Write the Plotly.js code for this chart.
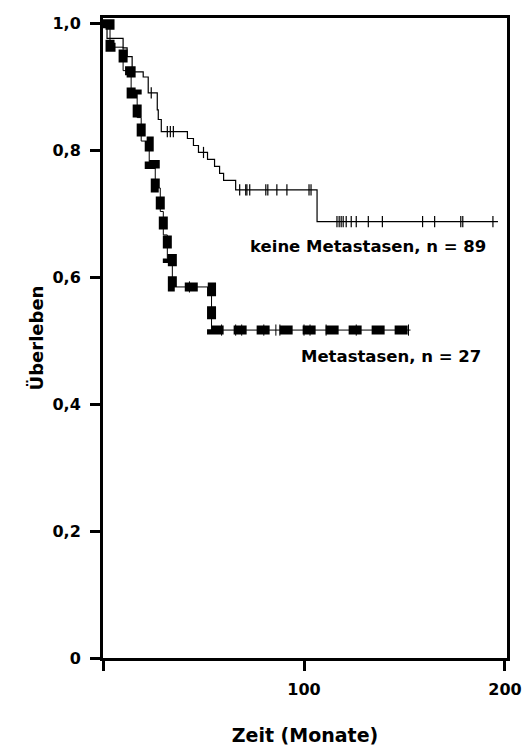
<!DOCTYPE html>
<html>
<head>
<meta charset="utf-8">
<script src="https://cdn.plot.ly/plotly-3.0.1.min.js"></script>
<style>html,body{margin:0;padding:0;background:#fff;}#chart{width:524px;height:747px;}</style>
</head>
<body>
<div id="chart"></div>
<script>
// Keine Metastasen (n = 89): Kaplan-Meier steps
const noMetTime = [0, 2, 10, 12, 14.5, 20, 22.5, 27, 27.5, 29, 42, 45, 47.5, 52, 55.5, 58, 60, 66, 106.5, 196.5];
const noMetSurv = [1.0, 0.977, 0.962, 0.948, 0.924, 0.916, 0.891, 0.864, 0.849, 0.830, 0.819, 0.808, 0.797, 0.786, 0.775, 0.764, 0.753, 0.738, 0.688, 0.688];
const noMetCensor = [24, 32, 33.5, 35, 50, 68, 71, 71.6, 73, 81, 82, 86.5, 91.5, 102.5, 103.5, 116.4, 117.5, 118.5, 119.5, 121, 123.5, 126, 132, 139, 159, 165, 178, 179, 194];

// Metastasen (n = 27): Kaplan-Meier steps
const metTime = [0, 3.5, 10, 14, 17, 19, 23, 26, 28.5, 30, 32, 34.5, 54, 153];
const metSurv = [1.0, 0.963, 0.926, 0.889, 0.852, 0.815, 0.778, 0.741, 0.704, 0.667, 0.630, 0.585, 0.517, 0.517];
const metCensor = [43, 59, 66, 69, 80, 86, 88, 100, 103, 111, 126, 152];

// Axis ticks
const xTickVals = [0, 100, 200];
const xTickText = ['', '100', '200'];
const yTickVals = [0, 0.2, 0.4, 0.6, 0.8, 1.0];
const yTickText = ['0', '0,2', '0,4', '0,6', '0,8', '1,0'];

// Labels
const labelNoMet = 'keine Metastasen, n = 89';
const labelMet = 'Metastasen, n = 27';

function survAt(times, surv, t) {
  let s = surv[0];
  for (let i = 0; i < times.length; i++) { if (times[i] <= t) s = surv[i]; }
  return s;
}

const font = {family: 'DejaVu Sans, Liberation Sans, Arial, sans-serif', color: '#000', weight: 'bold'};
const f = s => Object.assign({size: s}, font);

const traces = [
  {x: metTime, y: metSurv, mode: 'lines', line: {shape: 'hv', color: '#000', width: 1}, showlegend: false},
  {x: metTime, y: metSurv, mode: 'lines', line: {shape: 'hv', color: '#000', width: 9, dash: '13px,10px'}, showlegend: false},
  {x: metCensor, y: metCensor.map(t => survAt(metTime, metSurv, t)), mode: 'markers',
   marker: {symbol: 'line-ns', size: 8, line: {color: '#000', width: 1}}, showlegend: false},
  {x: noMetTime, y: noMetSurv, mode: 'lines', line: {shape: 'hv', color: '#000', width: 1.2}, showlegend: false},
  {x: noMetCensor, y: noMetCensor.map(t => survAt(noMetTime, noMetSurv, t)), mode: 'markers',
   marker: {symbol: 'line-ns', size: 8, line: {color: '#000', width: 1.2}}, showlegend: false}
];

const layout = {
  width: 524, height: 747,
  margin: {l: 103, r: 17, t: 18, b: 89},
  paper_bgcolor: '#fff', plot_bgcolor: '#fff',
  showlegend: false,
  xaxis: {
    range: [0, 201], showgrid: false, zeroline: false,
    showline: true, mirror: true, linecolor: '#000', linewidth: 3,
    ticks: 'outside', ticklen: 10, tickwidth: 3, tickcolor: '#000',
    tickvals: xTickVals, ticktext: xTickText, ticklabelstandoff: 5,
    tickfont: f(16),
    title: {text: 'Zeit (Monate)', font: f(19), standoff: 31}
  },
  yaxis: {
    range: [0, 1.009], showgrid: false, zeroline: false,
    showline: true, mirror: true, linecolor: '#000', linewidth: 3,
    ticks: 'outside', ticklen: 10, tickwidth: 3, tickcolor: '#000',
    tickvals: yTickVals, ticktext: yTickText, ticklabelstandoff: 6,
    tickfont: f(16),
    title: {text: 'Überleben', font: f(18), standoff: 5}
  },
  annotations: [
    {x: 191.5, y: 0.648, xref: 'x', yref: 'y', text: labelNoMet, showarrow: false, xanchor: 'right', yanchor: 'middle', font: f(16.5)},
    {x: 189, y: 0.475, xref: 'x', yref: 'y', text: labelMet, showarrow: false, xanchor: 'right', yanchor: 'middle', font: f(16.5)}
  ]
};

Plotly.newPlot('chart', traces, layout, {displayModeBar: false, staticPlot: true});
</script>
</body>
</html>
